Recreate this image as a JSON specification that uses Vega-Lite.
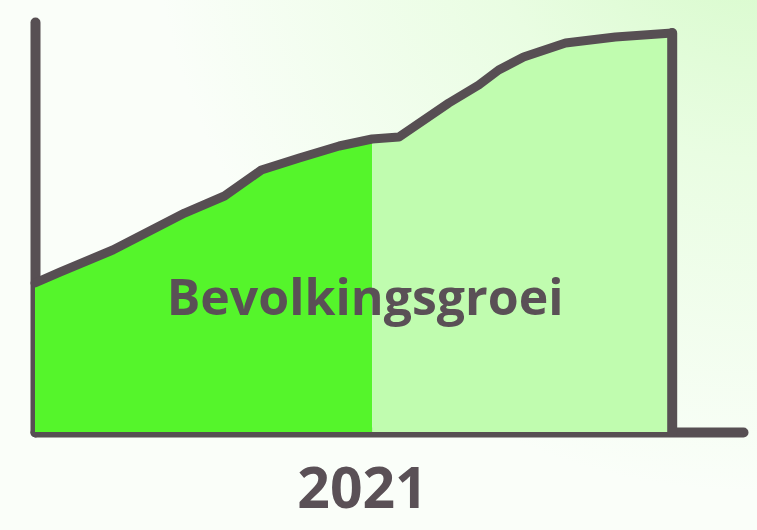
{
  "$schema": "https://vega.github.io/schema/vega-lite/v6.json",
  "width": 757,
  "height": 530,
  "autosize": {"type": "none"},
  "padding": 0,
  "background": "#fafef9",
  "config": {
    "view": {
      "stroke": null,
      "fill": {
        "gradient": "radial",
        "x1": 1, "y1": 0, "r1": 0,
        "x2": 1, "y2": 0, "r2": 0.8,
        "stops": [
          {"offset": 0, "color": "#d3fac6"},
          {"offset": 0.45, "color": "#e9fde2"},
          {"offset": 1, "color": "#fafef9"}
        ]
      }
    },
    "axis": {
      "domainColor": "#574f53",
      "domainWidth": 10,
      "domainCap": "round",
      "ticks": false,
      "labels": false,
      "grid": false,
      "zindex": 1
    }
  },
  "datasets": {
    "punten": [
      {"t": 0, "v": 36.34},
      {"t": 3.52, "v": 39.02},
      {"t": 10.99, "v": 44.39},
      {"t": 21.13, "v": 53.41},
      {"t": 26.76, "v": 57.56},
      {"t": 31.97, "v": 63.9},
      {"t": 37.32, "v": 66.83},
      {"t": 42.96, "v": 69.76},
      {"t": 47.61, "v": 71.46},
      {"t": 51.41, "v": 71.95},
      {"t": 58.45, "v": 80.24},
      {"t": 62.68, "v": 84.63},
      {"t": 65.49, "v": 88.29},
      {"t": 69.01, "v": 91.46},
      {"t": 74.93, "v": 94.88},
      {"t": 81.97, "v": 96.34},
      {"t": 90.0, "v": 97.32}
    ]
  },
  "encoding": {
    "x": {
      "field": "t",
      "type": "quantitative",
      "scale": {"domain": [0, 100], "range": [35, 743], "nice": false, "zero": false},
      "axis": {
        "offset": -98,
        "title": "2021",
        "titleFont": "Open Sans",
        "titleFontSize": 57,
        "titleFontWeight": "bold",
        "titleColor": "#5a5056",
        "titleX": 362,
        "titleY": 75,
        "titleAlign": "center",
        "titleBaseline": "alphabetic"
      }
    },
    "y": {
      "field": "v",
      "type": "quantitative",
      "scale": {"domain": [0, 100], "range": [432, 22], "nice": false, "zero": false},
      "axis": {"title": null, "offset": -35}
    }
  },
  "layer": [
    {
      "data": {"name": "punten"},
      "transform": [{"filter": "datum.t <= 47.61"}],
      "mark": {"type": "area", "color": "#55f52b", "interpolate": "linear"}
    },
    {
      "data": {"name": "punten"},
      "transform": [{"filter": "datum.t >= 47.61"}],
      "mark": {"type": "area", "color": "#c0fcaf", "interpolate": "linear"}
    },
    {
      "data": {"name": "punten"},
      "mark": {"type": "line", "color": "#574f53", "strokeWidth": 9, "strokeCap": "round", "strokeJoin": "round"}
    },
    {
      "data": {"name": "punten"},
      "transform": [{"filter": "datum.t == 90"}],
      "mark": {"type": "rule", "color": "#574f53", "strokeWidth": 10, "strokeCap": "round"},
      "encoding": {"y2": {"datum": 0}}
    },
    {
      "data": {"values": [{"t": 46.62, "v": 28.54, "label": "Bevolkingsgroei"}]},
      "mark": {"type": "text", "font": "Open Sans", "fontSize": 50, "fontWeight": "bold", "color": "#5a5056", "align": "center", "baseline": "alphabetic"},
      "encoding": {"text": {"field": "label"}}
    }
  ]
}
